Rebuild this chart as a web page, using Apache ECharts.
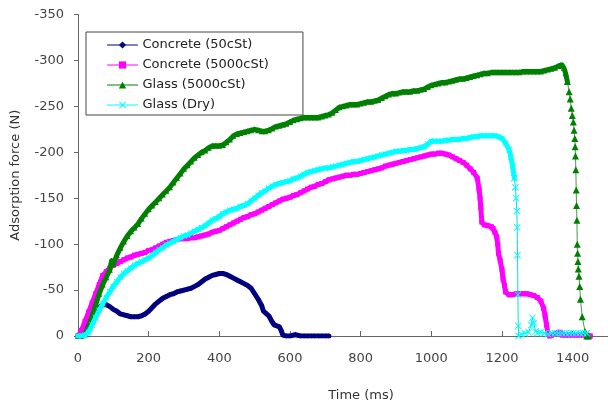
<!DOCTYPE html>
<html><head><meta charset="utf-8">
<script src="https://cdn.jsdelivr.net/npm/echarts@6/dist/echarts.min.js"></script>
<style>html,body{margin:0;padding:0;background:#fff}#c{width:608px;height:407px}</style>
</head><body><div id="c"></div>
<script>
const seriesNames = ["Concrete (50cSt)", "Concrete (5000cSt)", "Glass (5000cSt)", "Glass (Dry)"];
const xTicks = [0, 200, 400, 600, 800, 1000, 1200, 1400];
const yTicks = [0, -50, -100, -150, -200, -250, -300, -350];

const concrete50 = [[0,0],[10,-3],[20,-8],[30,-14],[40,-20],[50,-26],[60,-31],[70,-34],[80,-34],[90,-32],[100,-29],[110,-27],[120,-24],[130,-23],[140,-22],[150,-21],[160,-21],[170,-21],[180,-22],[190,-24],[200,-27],[210,-31],[220,-35],[230,-38],[240,-41],[250,-43],[260,-45],[270,-46],[280,-48],[290,-49],[300,-50],[310,-51],[320,-52],[330,-54],[340,-56],[350,-59],[360,-62],[370,-64],[380,-66],[390,-67],[400,-68],[410,-68],[420,-67],[430,-65],[440,-63],[450,-61],[460,-59],[470,-57],[480,-55],[490,-52],[500,-46],[510,-40],[520,-33],[525,-27],[530,-25],[540,-22],[550,-15],[555,-12],[560,-12],[570,-10],[575,-6],[580,-1],[590,0],[600,0],[610,-1],[615,-2],[620,-1],[630,0],[640,0],[650,0],[660,0],[670,0],[680,0],[690,0],[700,0],[710,0]];

const concrete5000 = [[0,0],[10,-6],[20,-16],[30,-26],[40,-36],[50,-46],[60,-56],[70,-66],[80,-70],[90,-74],[100,-77],[110,-79],[120,-81],[130,-83],[140,-85],[150,-86],[160,-88],[170,-89],[180,-90],[190,-91],[200,-93],[210,-94],[220,-96],[230,-98],[240,-100],[250,-102],[260,-103],[270,-104],[280,-105],[290,-106],[300,-106],[310,-106],[320,-107],[330,-107],[340,-108],[350,-109],[360,-110],[370,-111],[380,-113],[390,-114],[400,-115],[410,-117],[420,-119],[430,-121],[440,-123],[450,-125],[460,-127],[470,-129],[480,-130],[490,-132],[500,-133],[510,-135],[520,-137],[530,-139],[540,-141],[550,-143],[560,-145],[570,-147],[580,-149],[590,-150],[600,-151],[610,-153],[620,-154],[630,-156],[640,-158],[650,-160],[660,-162],[670,-163],[680,-165],[690,-166],[700,-168],[710,-170],[720,-171],[730,-172],[740,-173],[750,-174],[760,-175],[770,-175],[780,-176],[790,-176],[800,-177],[810,-178],[820,-179],[830,-180],[840,-181],[850,-182],[860,-183],[870,-185],[880,-186],[890,-187],[900,-188],[910,-189],[920,-190],[930,-191],[940,-192],[950,-193],[960,-194],[970,-195],[980,-196],[990,-197],[1000,-198],[1010,-198],[1020,-199],[1030,-199],[1040,-198],[1050,-197],[1060,-195],[1070,-193],[1080,-191],[1090,-189],[1100,-186],[1110,-182],[1120,-178],[1130,-172],[1135,-160],[1138,-150],[1140,-140],[1143,-124],[1150,-121],[1160,-120],[1170,-119],[1175,-117],[1180,-113],[1185,-108],[1188,-100],[1190,-90],[1195,-82],[1200,-72],[1203,-62],[1207,-55],[1210,-48],[1220,-45],[1230,-45],[1240,-46],[1250,-46],[1260,-46],[1270,-46],[1280,-45],[1290,-44],[1300,-42],[1310,-38],[1318,-30],[1322,-22],[1326,-12],[1330,-3],[1335,0],[1340,-1],[1350,-2],[1360,-4],[1365,-4],[1370,-1],[1380,-1],[1390,-1],[1400,-1],[1410,-1],[1420,-1],[1430,-1],[1440,-1],[1450,0]];

const glass5000 = [[0,0],[10,0],[20,-2],[30,-10],[40,-22],[50,-34],[60,-46],[70,-56],[80,-64],[90,-72],[95,-82],[100,-78],[110,-88],[120,-96],[130,-103],[140,-109],[150,-114],[160,-118],[170,-122],[180,-128],[190,-133],[200,-138],[210,-142],[220,-146],[230,-150],[240,-154],[250,-158],[260,-162],[270,-167],[280,-172],[290,-177],[300,-182],[310,-186],[320,-190],[330,-194],[340,-197],[350,-200],[360,-202],[370,-205],[380,-207],[390,-207],[400,-207],[410,-208],[420,-211],[430,-214],[440,-218],[450,-220],[460,-221],[470,-222],[480,-223],[490,-224],[500,-225],[510,-224],[520,-223],[530,-223],[540,-224],[550,-226],[560,-228],[570,-229],[580,-230],[590,-231],[600,-233],[610,-235],[620,-236],[630,-237],[640,-238],[650,-238],[660,-238],[670,-238],[680,-238],[690,-239],[700,-240],[710,-241],[720,-243],[730,-246],[740,-249],[750,-250],[760,-251],[770,-252],[780,-252],[790,-252],[800,-253],[810,-254],[820,-255],[830,-255],[840,-256],[850,-257],[860,-259],[870,-261],[880,-263],[890,-264],[900,-264],[910,-265],[920,-266],[930,-266],[940,-266],[950,-267],[960,-267],[970,-268],[980,-269],[990,-271],[1000,-273],[1010,-274],[1020,-275],[1030,-276],[1040,-276],[1050,-277],[1060,-278],[1070,-279],[1080,-280],[1090,-280],[1100,-281],[1110,-282],[1120,-283],[1130,-284],[1140,-285],[1150,-286],[1160,-286],[1170,-287],[1180,-287],[1190,-287],[1200,-287],[1210,-287],[1220,-287],[1230,-287],[1240,-287],[1250,-287],[1260,-288],[1270,-288],[1280,-288],[1290,-288],[1300,-288],[1310,-288],[1320,-289],[1330,-290],[1340,-291],[1350,-292],[1360,-294],[1365,-295],[1370,-295],[1375,-292],[1380,-286],[1385,-277],[1390,-266],[1393,-258],[1396,-248],[1399,-240],[1402,-233],[1404,-224],[1406,-215],[1407,-206],[1408,-196],[1409,-181],[1410,-159],[1411,-142],[1412,-126],[1413,-100],[1414,-90],[1415,-81],[1416,-73],[1418,-65],[1420,-54],[1422,-40],[1427,-21],[1435,-5],[1440,0],[1445,0]];

const glassDry = [[0,0],[10,0],[20,-1],[30,-4],[40,-12],[50,-20],[60,-28],[70,-35],[80,-42],[90,-48],[100,-54],[110,-59],[120,-64],[130,-68],[140,-71],[150,-74],[160,-77],[170,-79],[180,-81],[190,-83],[200,-85],[210,-88],[220,-91],[230,-94],[240,-96],[250,-99],[260,-101],[270,-103],[280,-105],[290,-107],[300,-109],[310,-110],[320,-112],[330,-114],[340,-116],[350,-118],[360,-120],[370,-123],[380,-126],[390,-128],[400,-130],[410,-133],[420,-135],[430,-137],[440,-138],[450,-139],[460,-141],[470,-142],[480,-144],[490,-147],[500,-150],[510,-153],[520,-156],[530,-158],[540,-161],[550,-163],[560,-165],[570,-166],[580,-167],[590,-168],[600,-169],[610,-171],[620,-172],[630,-174],[640,-176],[650,-178],[660,-179],[670,-180],[680,-181],[690,-182],[700,-183],[710,-183],[720,-184],[730,-185],[740,-186],[750,-187],[760,-188],[770,-189],[780,-190],[790,-190],[800,-191],[810,-192],[820,-193],[830,-194],[840,-195],[850,-196],[860,-197],[870,-198],[880,-199],[890,-200],[900,-201],[910,-201],[920,-202],[930,-202],[940,-203],[950,-203],[960,-204],[970,-205],[980,-206],[990,-209],[1000,-212],[1010,-212],[1020,-212],[1030,-212],[1040,-213],[1050,-213],[1060,-214],[1070,-214],[1080,-214],[1090,-215],[1100,-215],[1110,-216],[1120,-217],[1130,-217],[1140,-218],[1150,-218],[1160,-218],[1170,-218],[1180,-218],[1190,-217],[1200,-215],[1210,-210],[1220,-203],[1225,-195],[1230,-185],[1235,-172],[1238,-162],[1240,-150],[1242,-136],[1243,-118],[1244,-88],[1245,-45],[1246,-11],[1247,0],[1255,-2],[1265,-3],[1275,-4],[1283,-12],[1286,-20],[1290,-14],[1295,-5],[1300,-3],[1310,-4],[1320,-3],[1330,-2],[1340,-3],[1350,-3],[1360,-3],[1370,-3],[1380,-3],[1390,-3],[1400,-3],[1410,-3],[1420,-3],[1430,-3],[1440,-3]];

const colors = ["#000080", "#FF00FF", "#008000", "#00FFFF"];
const tailLineColors = ["#000080", "#FF00FF", "#4c9a4c", "#00E0E0"];
const xShape = 'path://M0,1 L1,0 L5,4 L9,0 L10,1 L6,5 L10,9 L9,10 L5,6 L1,10 L0,9 L4,5 Z';
const symbols = ["diamond", "rect", "triangle", xShape];
const symbolSizes = [6, 6, 7, 7];
const datasets = [concrete50, concrete5000, glass5000, glassDry];
// time after which the trace is drawn as separate markers on a thin line (fast release)
const thinFrom = [99999, 99999, 1385, 1235];

const chart = echarts.init(document.getElementById('c'), null, {renderer: 'canvas'});
const font = "DejaVu Sans";
const series = [];
datasets.forEach((d, i) => {
  const k = d.findIndex(p => p[0] >= thinFrom[i]);
  const main = k < 0 ? d : d.slice(0, k + 1);
  series.push({
    name: seriesNames[i], type: 'line', data: main,
    symbol: symbols[i], symbolSize: symbolSizes[i] - 1, showSymbol: true, showAllSymbol: true,
    itemStyle: {color: colors[i], borderWidth: 0},
    lineStyle: {color: colors[i], width: 5, join: 'round', cap: 'round'},
    z: 2 + i
  });
  if (k >= 0) {
    series.push({
      name: seriesNames[i], type: 'line', data: d.slice(k),
      symbol: symbols[i], symbolSize: symbolSizes[i], showSymbol: true, showAllSymbol: true,
      itemStyle: {color: colors[i], borderWidth: 0},
      lineStyle: {color: tailLineColors[i], width: 1},
      z: 2 + i
    });
  }
});

chart.setOption({
  animation: false,
  backgroundColor: '#fff',
  textStyle: {fontFamily: font},
  grid: {left: 78, right: 0, top: 14.5, bottom: 67},
  legend: {
    orient: 'vertical', left: 86, top: 32,
    padding: [6, 34, 3, 21], itemGap: 6, itemWidth: 30, itemHeight: 9,
    backgroundColor: '#fff', borderColor: '#444', borderWidth: 1, borderRadius: 0,
    lineStyle: {width: 1},
    textStyle: {fontFamily: font, fontSize: 13, color: '#222', lineHeight: 14},
    data: seriesNames
  },
  xAxis: {
    type: 'value', min: 0, max: 1500, interval: 200,
    name: 'Time (ms)', nameLocation: 'middle', nameGap: 53,
    nameTextStyle: {fontFamily: font, fontSize: 13, color: '#333', padding: [0, 0, 0, 36]},
    axisLine: {lineStyle: {color: '#666'}},
    axisTick: {inside: true, length: 5, lineStyle: {color: '#666'}},
    axisLabel: {fontFamily: font, fontSize: 13, color: '#444', margin: 16, showMaxLabel: false,
      formatter: v => xTicks.indexOf(v) >= 0 ? String(v) : ''},
    splitLine: {show: false}
  },
  yAxis: {
    type: 'value', min: -350, max: 0, interval: 50, inverse: true,
    name: 'Adsorption force (N)', nameLocation: 'middle', nameGap: 56,
    nameTextStyle: {fontFamily: font, fontSize: 13, color: '#333'},
    axisLine: {show: true, lineStyle: {color: '#666'}},
    axisTick: {show: true, inside: false, length: 4, lineStyle: {color: '#666'}},
    axisLabel: {fontFamily: font, fontSize: 13, color: '#444', margin: 14,
      formatter: v => yTicks.indexOf(v) >= 0 ? String(v) : ''},
    splitLine: {show: false}
  },
  series: series
});
</script></body></html>
